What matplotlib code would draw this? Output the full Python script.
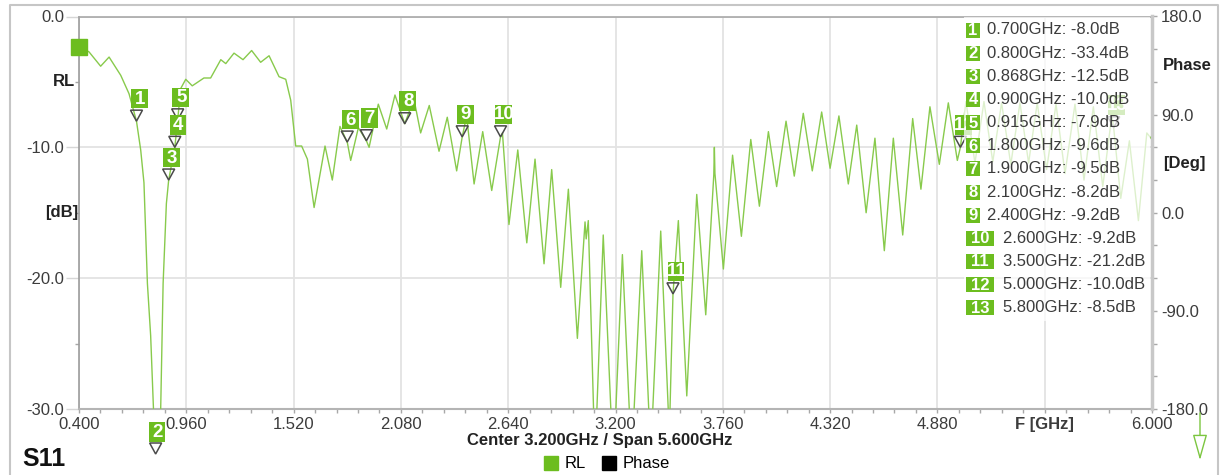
import matplotlib.pyplot as plt
import matplotlib.transforms as mtransforms
from matplotlib.patches import Rectangle, Polygon, FancyArrowPatch
from matplotlib.lines import Line2D

plt.rcParams['font.family'] = ['Liberation Sans', 'DejaVu Sans']

# S11 return loss trace (GHz, dB)
freq = [0.400, 0.452, 0.513, 0.557, 0.618, 0.661, 0.700, 0.722, 0.739, 0.757,
        0.774, 0.790, 0.800, 0.825, 0.839, 0.856, 0.868, 0.900, 0.915, 0.931,
        0.957, 0.991, 1.052, 1.087, 1.140, 1.166, 1.209, 1.256, 1.301, 1.348,
        1.392, 1.444, 1.479, 1.505, 1.531, 1.562, 1.592, 1.627, 1.684, 1.722,
        1.762, 1.800, 1.818, 1.858, 1.900, 1.914, 1.962, 2.006, 2.049, 2.100,
        2.148, 2.183, 2.228, 2.279, 2.322, 2.371, 2.400, 2.423, 2.462, 2.507,
        2.554, 2.600, 2.610, 2.644, 2.690, 2.737, 2.780, 2.827, 2.867, 2.914,
        2.954, 3.001, 3.041, 3.047, 3.058, 3.093, 3.136, 3.189, 3.236, 3.284,
        3.337, 3.384, 3.436, 3.481, 3.500, 3.528, 3.572, 3.624, 3.671, 3.713,
        3.716, 3.719, 3.763, 3.811, 3.857, 3.906, 3.951, 3.998, 4.041, 4.090,
        4.133, 4.180, 4.227, 4.276, 4.320, 4.366, 4.415, 4.459, 4.508, 4.554,
        4.603, 4.650, 4.699, 4.751, 4.794, 4.841, 4.890, 4.937, 4.984, 5.000,
        5.029, 5.076, 5.123, 5.169, 5.215, 5.263, 5.311, 5.356, 5.401, 5.450,
        5.499, 5.546, 5.598, 5.645, 5.694, 5.743, 5.790, 5.800, 5.837, 5.882,
        5.929, 5.973, 6.000]
rl = [-2.3, -2.7, -3.8, -3.1, -4.5, -5.9, -8.0, -10.2, -12.7, -20.4,
      -24.4, -30.5, -33.4, -31.0, -20.4, -14.3, -12.5, -10.0, -7.9, -5.5,
      -4.8, -5.3, -4.7, -4.7, -3.3, -3.6, -2.8, -3.3, -2.6, -3.5,
      -3.0, -4.6, -4.8, -6.4, -9.9, -9.9, -10.9, -14.6, -9.9, -12.5,
      -8.4, -9.6, -11.0, -8.5, -9.5, -10.0, -6.7, -8.6, -6.0, -8.2,
      -6.3, -8.9, -6.8, -10.3, -7.7, -11.8, -9.2, -7.6, -12.8, -8.8,
      -13.3, -9.2, -8.9, -15.9, -10.2, -17.3, -10.9, -18.9, -11.7, -20.7,
      -13.2, -24.6, -15.7, -17.0, -15.6, -34.0, -16.7, -34.5, -18.2, -34.0,
      -17.9, -33.5, -16.4, -32.0, -21.2, -15.6, -29.0, -13.6, -22.8, -12.1,
      -10.0, -12.0, -19.3, -10.6, -16.8, -9.4, -14.5, -8.8, -13.0, -8.0,
      -12.2, -7.4, -11.8, -7.3, -11.6, -7.6, -12.8, -8.3, -15.0, -9.3,
      -17.9, -9.3, -16.7, -7.8, -13.2, -6.9, -11.3, -6.6, -11.0, -10.0,
      -6.5, -11.2, -6.5, -11.1, -6.6, -11.3, -6.6, -11.2, -6.6, -11.7,
      -6.7, -12.0, -6.7, -12.5, -6.9, -13.0, -7.6, -8.5, -13.9, -9.5,
      -15.6, -8.9, -9.4]

marker_freq = [0.700, 0.800, 0.868, 0.900, 0.915, 1.800, 1.900, 2.100, 2.400,
               2.600, 3.500, 5.000, 5.800]
marker_db = [-8.0, -33.4, -12.5, -10.0, -7.9, -9.6, -9.5, -8.2, -9.2,
             -9.2, -21.2, -10.0, -8.5]

x_ticks = [0.400, 0.960, 1.520, 2.080, 2.640, 3.200, 3.760, 4.320, 4.880, 5.440, 6.000]
x_labels = ['0.400', '0.960', '1.520', '2.080', '2.640', '3.200', '3.760', '4.320',
            '4.880', 'F [GHz]', '6.000']
db_ticks = [0.0, -10.0, -20.0, -30.0]
phase_ticks = [180.0, 90.0, 0.0, -90.0, -180.0]

W, H = 1223, 475
GREEN = '#6cbd1f'
TRACE = '#88ca4c'
TXT = '#3c3c3c'
Y_MIN, Y_MAX = -30, 0

fig = plt.figure(figsize=(W / 100, H / 100), dpi=100)
ax = fig.add_axes([79 / W, 66 / H, 1073 / W, 392.5 / H])
ax.set_axisbelow(True)

ax.plot(freq, rl, color=TRACE, lw=1.0, zorder=3)
ax.plot(freq[0], rl[0], 's', color=GREEN, ms=11.5, clip_on=False, zorder=5)


def pin(n, f, db):
    # marker flag: open triangle pointing at the value, numbered green box above it
    base = mtransforms.ScaledTranslation(f, max(db, Y_MIN), ax.transData)
    if db < Y_MIN:
        tri = [(-6, -34), (6, -34), (0, -45)]
        cx, cy = 1.5, -23
    else:
        tri = [(-6, 11), (6, 11), (0, 0)]
        cx, cy = 3, 22.5
    ax.add_patch(Polygon(tri, closed=True, fill=False, ec='#4a4a4a', lw=1.1,
                         transform=base, clip_on=False, zorder=6))
    box = Rectangle((cx - 8.3, cy - 9.8), 16.6, 19.6, fc=GREEN, ec='none',
                    transform=base, clip_on=False, zorder=7)
    ax.add_patch(box)
    t = ax.text(cx + 0.5, cy - 0.5, str(n), transform=base, ha='center', va='center',
                color='white', fontsize=13.5, fontweight='bold', zorder=8)
    t.set_clip_path(box)


for i in reversed(range(len(marker_freq))):
    pin(i + 1, marker_freq[i], marker_db[i])

ax.set_xlim(0.4, 6.0)
ax.set_ylim(Y_MIN, Y_MAX)
ax.set_xticks(x_ticks)
ax.set_xticklabels(x_labels)
ax.set_xticks([0.4 + 0.112 * k for k in range(51)], minor=True)
ax.set_yticks(db_ticks)
ax.set_yticklabels(['%.1f' % v for v in db_ticks])
ax.set_yticks([-5, -15, -25], minor=True)
for lab in ax.get_xticklabels():
    if lab.get_text() == 'F [GHz]':
        lab.set_fontweight('bold')
        lab.set_color('#222222')

ax.grid(True, which='major', color='#e3e3e3', lw=1.3)
ax.tick_params(axis='x', which='both', length=3, width=1, color='#a8a8a8',
               pad=3, labelsize=12, labelcolor=TXT)
ax.tick_params(axis='y', which='major', length=9.5, width=1, color='#d6d6d6',
               pad=1, labelsize=12, labelcolor=TXT)
ax.tick_params(axis='y', which='minor', length=3, width=1, color='#a8a8a8')
ax.spines['left'].set_color('#9c9c9c')
ax.spines['left'].set_linewidth(1.2)
ax.spines['top'].set_color('#a8a8a8')
ax.spines['top'].set_linewidth(1.2)
ax.spines['bottom'].set_color('#b4b4b4')
ax.spines['bottom'].set_linewidth(1.5)
ax.spines['right'].set_visible(False)

ax2 = ax.twinx()
ax2.set_ylim(-180, 180)
ax2.set_yticks(phase_ticks)
ax2.set_yticklabels(['%.1f' % v for v in phase_ticks])
ax2.set_yticks([-150, -120, -60, -30, 30, 60, 120, 150], minor=True)
ax2.tick_params(axis='y', which='both', length=3.5, width=1, color='#a8a8a8',
                pad=3, labelsize=12, labelcolor=TXT)
for side in ['left', 'top', 'bottom']:
    ax2.spines[side].set_visible(False)
ax2.spines['right'].set_color('#c8c8c8')
ax2.spines['right'].set_linewidth(2.5)

left_tr = mtransforms.blended_transform_factory(ax.transAxes, ax.transData)
ax.text(-0.004, -5, 'RL', transform=left_tr, ha='right', va='center',
        fontsize=12, fontweight='bold', color='#222222')
ax.text(-0.001, -15, '[dB]', transform=left_tr, ha='right', va='center',
        fontsize=12, fontweight='bold', color='#222222')
right_tr = mtransforms.blended_transform_factory(ax2.transAxes, ax2.transData)
ax2.text(1.0105, 135, 'Phase', transform=right_tr, ha='left', va='center',
         fontsize=12, fontweight='bold', color='#222222')
ax2.text(1.0105, 45, '[Deg]', transform=right_tr, ha='left', va='center',
         fontsize=12, fontweight='bold', color='#222222')

# marker table, laid over the trace with a see-through white panel
fig.add_artist(Rectangle((964 / W, 1 - 321 / H), 186 / W, 304 / H,
                         transform=fig.transFigure, fc='white', ec='none',
                         alpha=0.72, zorder=2))
for i in range(len(marker_freq)):
    yc = 1 - (30 + 23.15 * i) / H
    n = i + 1
    bw = 14 if n < 10 else 28
    fig.add_artist(Rectangle((966 / W, yc - 7.5 / H), bw / W, 15 / H,
                             transform=fig.transFigure, fc=GREEN, ec='none', zorder=3))
    fig.text((966 + bw / 2) / W, yc - 0.5 / H, str(n), ha='center', va='center',
             color='white', fontsize=12, fontweight='bold', zorder=4)
    tx = 987 if n < 10 else 1003
    fig.text(tx / W, yc, '%.3fGHz: %.1fdB' % (marker_freq[i], marker_db[i]),
             ha='left', va='center', color=TXT, fontsize=12, zorder=4)

fig.text(600 / W, 1 - 441 / H, 'Center 3.200GHz / Span 5.600GHz', ha='center',
         va='center', fontsize=12, fontweight='bold', color='#222222')
fig.text(22 / W, 1 - 459 / H, 'S11', ha='left', va='center', fontsize=18,
         fontweight='bold', color='#111111')

handles = [Line2D([], [], marker='s', ls='none', color=GREEN, ms=10),
           Line2D([], [], marker='s', ls='none', color='black', ms=10)]
fig.legend(handles=handles, labels=['RL', 'Phase'], loc='center',
           bbox_to_anchor=(606 / W, 1 - 464 / H), ncol=2, frameon=False,
           fontsize=12, handletextpad=0.3, columnspacing=0.9, handlelength=1.0)

fig.add_artist(FancyArrowPatch((1200 / W, 1 - 410 / H), (1200 / W, 1 - 463 / H),
                               transform=fig.transFigure,
                               arrowstyle='-|>,head_length=1.6,head_width=0.45',
                               mutation_scale=10, fc='white', ec='#7cc640', lw=1.0))
fig.add_artist(Line2D([10 / W, 10 / W, 1218 / W, 1218 / W], [0, 1 - 5 / H, 1 - 5 / H, 0],
                      transform=fig.transFigure, color='#c6c6c6', lw=1.5))

fig.savefig('out.png', dpi=100, facecolor='white')
